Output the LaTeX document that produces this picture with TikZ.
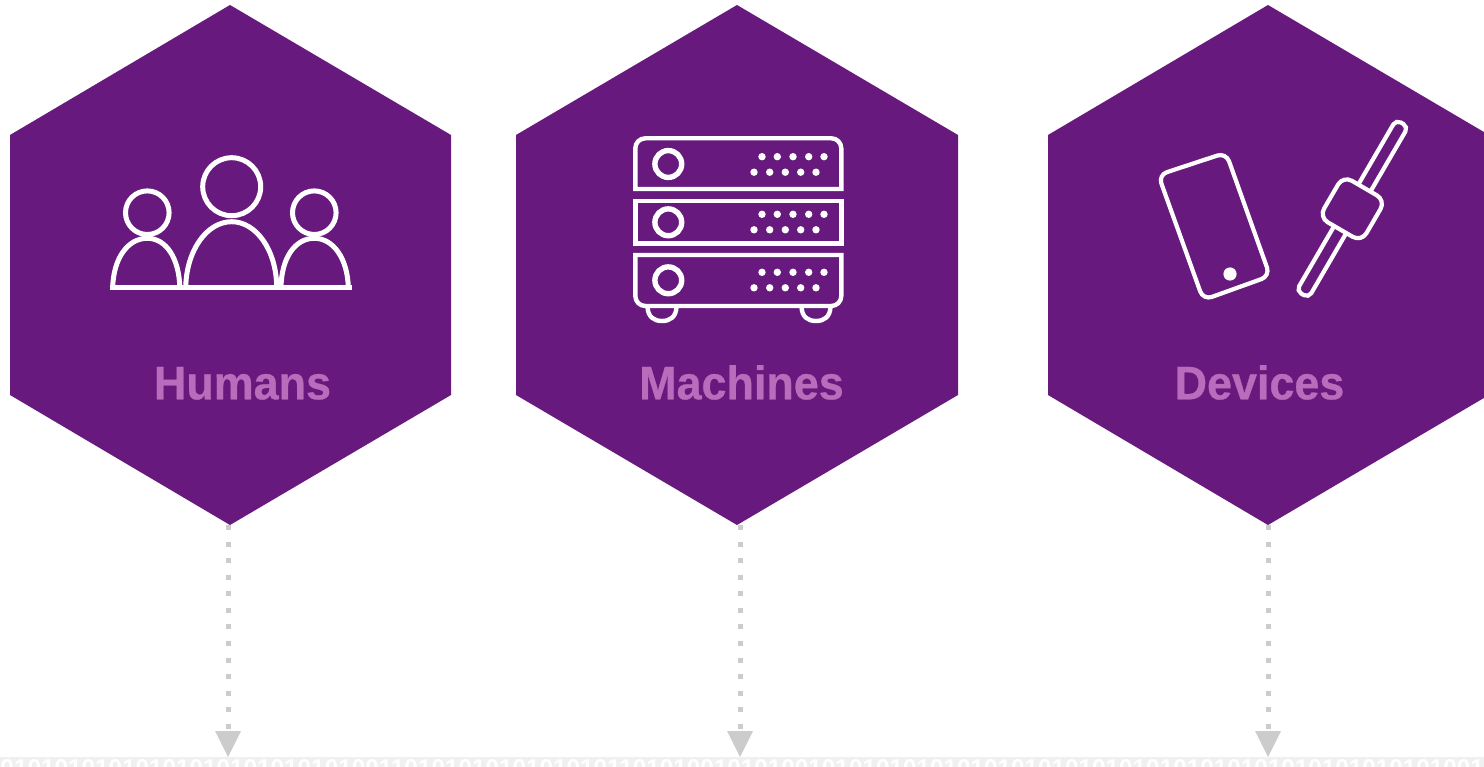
\documentclass[tikz,border=0pt]{standalone}
\usepackage{fontspec}
\usetikzlibrary{arrows.meta}
\setmainfont{Liberation Sans}
\newfontfamily\labelfont[FakeStretch=0.955,FakeBold=0.6]{Liberation Sans}
\definecolor{hexpurple}{HTML}{67197D}
\definecolor{labelpink}{HTML}{B96CBB}
\definecolor{dotgray}{HTML}{CCCCCC}
\definecolor{stripgray}{HTML}{F0F0F0}
\tikzset{
  hexa/.style={fill=hexpurple},
  hexlabel/.style={inner sep=0pt,anchor=base,text=labelpink,font=\labelfont\bfseries\fontsize{47}{47}\selectfont},
  flow/.style={draw=dotgray,line width=5pt,dash pattern=on 5pt off 11.58pt,
    -{Triangle[width=26pt,length=26pt,fill=dotgray,line width=0pt,color=dotgray]}},
  iconline/.style={draw=white,line width=5pt},
  thinline/.style={draw=white,line width=4.2pt},
  srvbox/.style={draw=white,line width=4.4pt},
  knob/.style={draw=white,line width=5.4pt},
}
\begin{document}
\begin{tikzpicture}[x=1pt,y=-1pt]
\clip (0,0) rectangle (1484,767);
\fill[white] (0,0) rectangle (1484,767);

% strip of binary digits
\fill[stripgray] (0,757) rectangle (1484,767);
\node[inner sep=0pt,anchor=base west,text=white,font=\bfseries\fontsize{24.3}{24.3}\selectfont] (bits) at (0.3,776)
  {01010101010101010101010101001101010101010101011010100101010010101010101010101010101010101010101010101010101001};

% connectors
\coordinate (b1) at (228,525); \coordinate (t1) at (228,757);
\coordinate (b2) at (740,525); \coordinate (t2) at (740,757);
\coordinate (b3) at (1268,525); \coordinate (t3) at (1268,757);
\draw[flow] (b1) -- (t1);
\draw[flow] (b2) -- (t2);
\draw[flow] (b3) -- (t3);

% hexagons
\fill[hexa] (230,5) -- (451,135) -- (451,395) -- (230,525) -- (10,395) -- (10,135) -- cycle;
\fill[hexa] (737,5) -- (958,135) -- (958,395) -- (737,525) -- (516,395) -- (516,135) -- cycle;
\fill[hexa] (1268,5) -- (1489,135) -- (1489,395) -- (1268,525) -- (1048,395) -- (1048,135) -- cycle;

% labels
\node[hexlabel] (humans) at (242.5,399.3) {Humans};
\node[hexlabel] (machines) at (741.5,399.3) {Machines};
\node[hexlabel] (devices) at (1259.5,399.3) {Devices};

% humans icon
\draw[iconline] (231.7,186.7) circle[radius=29pt];
\draw[iconline] (147.3,212.7) circle[radius=21.8pt];
\draw[iconline] (314.3,212.7) circle[radius=21.8pt];
\draw[iconline] (185.7,287.3) .. controls (186.5,250) and (207,221.7) .. (231.7,221.7)
  .. controls (256,221.7) and (276.5,250) .. (276.7,287.3);
\draw[iconline] (112.7,287.3) .. controls (113.5,258) and (128,238.3) .. (147.3,238.3)
  .. controls (166,238.3) and (179,258) .. (179.8,287.3);
\draw[iconline] (281,287.3) .. controls (281.5,258) and (295,238.3) .. (314.3,238.3)
  .. controls (333,238.3) and (347.5,258) .. (348.3,287.3);
\draw[iconline,line cap=rect] (112,288) -- (349,288);

% machines icon
\draw[srvbox] (635.3,189) -- (635.3,148.3) .. controls (635.3,142.8) and (639.8,138.3) .. (645.3,138.3) -- (831.3,138.3)
  .. controls (836.8,138.3) and (841.3,142.8) .. (841.3,148.3) -- (841.3,189) -- cycle;
\draw[srvbox] (635.3,201) rectangle (841.3,243.7);
\draw[srvbox] (635.3,255) -- (841.3,255) -- (841.3,296) .. controls (841.3,301.5) and (836.8,306) .. (831.3,306) -- (645.3,306)
  .. controls (639.8,306) and (635.3,301.5) .. (635.3,296) -- cycle;
\foreach \cy in {164,222.3,280.3}{\draw[knob] (668.3,\cy) circle[radius=13.4pt];}
\foreach \ry in {156.7,214.3,272.3}{
  \foreach \dx in {762,777.3,793,808.7,824}{\fill[white] (\dx,\ry) circle[radius=3.7pt];}
  \foreach \dx in {754,769.7,785.3,800.7,816}{\fill[white] (\dx,\ry+15.5) circle[radius=3.7pt];}
}
\draw[srvbox] (647.5,307) .. controls (648,317) and (654,321) .. (662,321) .. controls (670,321) and (676,317) .. (676.5,307);
\draw[srvbox] (801.5,307) .. controls (802,317) and (808,321) .. (816,321) .. controls (824,321) and (830,317) .. (830.5,307);

% devices icon: phone
\draw[thinline,rounded corners=9pt] (1158.3,175) -- (1226,152.7) -- (1270,276) -- (1203.3,300) -- cycle;
\fill[white] (1230,274) circle[radius=6.6pt];
% devices icon: watch
\begin{scope}[shift={(1352.3,208.8)},rotate=59.8]
  \draw[thinline,rounded corners=5.5pt] (-99,-7) rectangle (99,7);
  \draw[thinline,fill=hexpurple,rounded corners=10pt] (-24,-24.5) rectangle (24,24.5);
\end{scope}
\end{tikzpicture}
\end{document}
